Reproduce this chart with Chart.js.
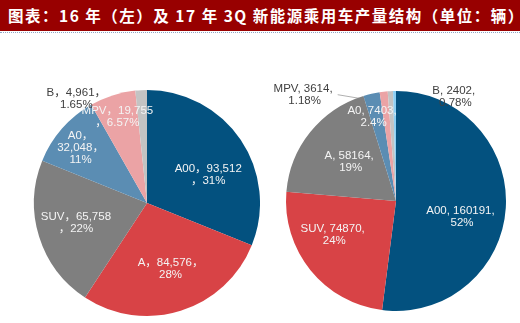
<!DOCTYPE html>
<html lang="zh">
<head>
    <meta charset="UTF-8">
    <title>新能源乘用车产量结构</title>
    <script src="https://cdn.jsdelivr.net/npm/chart.js"></script>
    <style>
        * {
            margin: 0;
            padding: 0;
            box-sizing: border-box;
        }

        body {
            width: 520px;
            height: 323px;
            background: #ffffff;
            position: relative;
            overflow: hidden;
        }

        .title {
            position: absolute;
            left: 0;
            top: 0;
            width: 520px;
            height: 31px;
            background: #980000;
            color: #ffffff;
            font-family: 'Noto Sans CJK SC', sans-serif;
            font-weight: 700;
            font-size: 15.5px;
            letter-spacing: 1.5px;
            line-height: 31px;
            padding-left: 8px;
            white-space: nowrap;
        }

        .rule {
            position: absolute;
            left: 0;
            top: 32px;
            width: 520px;
            border-top: 1px dotted #8ea6c6;
        }

        .pie {
            position: absolute;
            top: 35px;
            width: 260px;
            height: 288px;
        }
    </style>
</head>
<body>
    <div class="title">图表：16 年（左）及 17 年 3Q 新能源乘用车产量结构（单位：辆）</div>
    <div class="rule"></div>
    <div class="pie" style="left:0"><canvas id="pie16" width="260" height="288"></canvas></div>
    <div class="pie" style="left:260px"><canvas id="pie17" width="260" height="288"></canvas></div>

    <script>
        // 2016
        const categories16 = ['A00', 'A', 'SUV', 'A0', 'MPV', 'B'];
        const values16 = [93512, 84576, 65758, 32048, 19755, 4961];
        const shares16 = ['31%', '28%', '22%', '11%', '6.57%', '1.65%'];

        // 2017 3Q (last slice is the small unlabeled sliver at the top)
        const categories17 = ['A00', 'SUV', 'A', 'A0', 'MPV', 'B', ''];
        const values17 = [160191, 74870, 58164, 7403, 3614, 2402, 1300];
        const shares17 = ['52%', '24%', '19%', '2.4%', '1.18%', '0.78%', ''];

        const colors = ['#03517f', '#d84346', '#7f7f7f', '#5b8db3', '#eba3a5', '#c3c3c3', '#8ccff4'];

        // build label lines: 'a' = name+val / share, 'b' = name+val+ / share, 'c' = name / val / share
        function labelLines(name, val, share, style, sep) {
            if (!name) return null;
            if (style === 'a') return [name + sep + val, sep + share];
            if (style === 'b') return [name + sep + val + sep, share];
            return [name + sep, val + sep, share];
        }

        const styles16 = ['a', 'b', 'a', 'c', 'a', 'b'];
        const texts16 = categories16.map((c, i) =>
            labelLines(c, values16[i].toLocaleString('en-US'), shares16[i], styles16[i], '，'));
        const texts17 = categories17.map((c, i) =>
            labelLines(c, String(values17[i]), shares17[i], 'b', ', '));

        const pieLabels = {
            id: 'pieLabels',
            beforeDatasetsDraw(chart, args, opts) {
                if (opts.leader == null) return;
                const ctx = chart.ctx;
                const i = opts.leader;
                const arc = chart.getDatasetMeta(0).data[i];
                const mid = (arc.startAngle + arc.endAngle) / 2;
                const p = labelPos(arc, opts, i);
                ctx.save();
                ctx.strokeStyle = '#b0b0b0';
                ctx.lineWidth = 1;
                ctx.beginPath();
                ctx.moveTo(p.x + 33, p.y);
                ctx.lineTo(arc.x + Math.cos(mid) * arc.outerRadius * 0.9, arc.y + Math.sin(mid) * arc.outerRadius * 0.9);
                ctx.stroke();
                ctx.restore();
            },
            afterDatasetsDraw(chart, args, opts) {
                const ctx = chart.ctx;
                const meta = chart.getDatasetMeta(0);
                ctx.save();
                ctx.font = '11.5px "Liberation Sans", Arial, "Noto Sans CJK SC", sans-serif';
                ctx.textAlign = 'center';
                ctx.textBaseline = 'middle';
                meta.data.forEach((arc, i) => {
                    const lines = opts.texts[i];
                    if (!lines) return;
                    const p = labelPos(arc, opts, i);
                    ctx.fillStyle = opts.outside.includes(i) ? '#404040' : '#f4f4f4';
                    const y0 = p.y - (lines.length - 1) * 12 / 2;
                    lines.forEach((t, k) => ctx.fillText(t, p.x, y0 + k * 12));
                });
                ctx.restore();
            }
        };

        function labelPos(arc, opts, i) {
            const mid = (arc.startAngle + arc.endAngle) / 2;
            const r = arc.outerRadius * opts.radius[i];
            return {
                x: arc.x + Math.cos(mid) * r + opts.shift[i][0],
                y: arc.y + Math.sin(mid) * r + opts.shift[i][1]
            };
        }

        function makePie(id, labels, values, texts, padding, labelOpts) {
            return new Chart(document.getElementById(id), {
                type: 'pie',
                data: {
                    labels: labels,
                    datasets: [{
                        data: values,
                        backgroundColor: colors.slice(0, values.length),
                        borderWidth: 0
                    }]
                },
                options: {
                    responsive: false,
                    animation: false,
                    layout: { padding: padding },
                    plugins: {
                        legend: { display: false },
                        tooltip: { enabled: false },
                        pieLabels: Object.assign({ texts: texts }, labelOpts)
                    }
                },
                plugins: [pieLabels]
            });
        }

        makePie('pie16', categories16, values16, texts16,
            { left: 34, right: 0, top: 55, bottom: 7 },
            {
                radius: [0.6, 0.61, 0.65, 0.77, 0.8, 1.14],
                shift: [[5, 10], [3, 0], [-1, -2], [-1, 2], [-2, 0], [-64, 24]],
                outside: [5]
            });

        makePie('pie17', categories17, values17, texts17,
            { left: 26, right: 14, top: 56, bottom: 12 },
            {
                radius: [0.62, 0.64, 0.54, 0.79, 1.0, 1.0, 1.0],
                shift: [[-2, 12], [-7, -10], [1, -2], [-3, 1], [-79, 3], [65, 6], [0, 0]],
                outside: [4, 5],
                leader: 4
            });
    </script>
</body>
</html>
